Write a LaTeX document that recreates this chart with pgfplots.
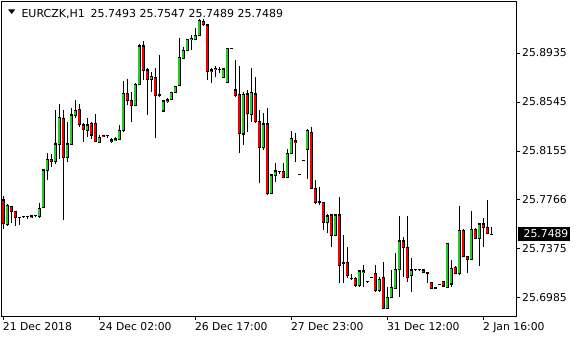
\documentclass[border=0pt]{standalone}
\usepackage{fontspec}
\setmainfont{DejaVu Sans}
\usepackage{pgfplots}
\usepackage{pgfplotstable}
\pgfplotsset{compat=1.18}
\definecolor{bull}{RGB}{40,200,40}
\definecolor{bear}{RGB}{240,0,0}
\pgfplotstableread{
i o h l c
0 25.7765 25.7799 25.7534 25.7580
1 25.7572 25.7731 25.7558 25.7725
2 25.7712 25.7717 25.7584 25.7672
3 25.7672 25.7677 25.7558 25.7627
4 25.7627 25.7632 25.7566 25.7627
5 25.7630 25.7638 25.7619 25.7630
6 25.7630 25.7638 25.7611 25.7630
7 25.7627 25.7640 25.7624 25.7638
8 25.7638 25.7646 25.7627 25.7638
9 25.7632 25.7739 25.7619 25.7699
10 25.7704 25.8009 25.7699 25.8004
11 25.7998 25.8137 25.7924 25.8089
12 25.8089 25.8129 25.8030 25.8068
13 25.8070 25.8481 25.8052 25.8211
14 25.8208 25.8527 25.8089 25.8423
15 25.8415 25.8481 25.7606 25.8105
16 25.8105 25.8388 25.8070 25.8211
17 25.8208 25.8495 25.8203 25.8442
18 25.8436 25.8561 25.8415 25.8481
19 25.8489 25.8529 25.8349 25.8362
20 25.8362 25.8376 25.8229 25.8328
21 25.8317 25.8415 25.8264 25.8362
22 25.8376 25.8388 25.8248 25.8282
23 25.8376 25.8450 25.8224 25.8229
24 25.8224 25.8282 25.8221 25.8264
25 25.8282 25.8282 25.8267 25.8269
26 25.8277 25.8280 25.8261 25.8277
27 25.8243 25.8256 25.8221 25.8229
28 25.8240 25.8264 25.8237 25.8251
29 25.8248 25.8362 25.8243 25.8322
30 25.8317 25.8715 25.8309 25.8614
31 25.8614 25.8728 25.8521 25.8555
32 25.8555 25.8622 25.8388 25.8516
33 25.8516 25.8694 25.8513 25.8686
34 25.8686 25.9007 25.8680 25.8991
35 25.8991 25.9031 25.8720 25.8794
36 25.8800 25.8813 25.8442 25.8726
37 25.8726 25.8786 25.8627 25.8747
38 25.8742 25.8813 25.8256 25.8593
39 25.8601 25.8919 25.8587 25.8595
40 25.8473 25.8561 25.8468 25.8553
41 25.8548 25.8577 25.8537 25.8561
42 25.8567 25.8627 25.8561 25.8622
43 25.8619 25.8672 25.8617 25.8667
44 25.8675 25.9052 25.8672 25.8901
45 25.8893 25.8985 25.8887 25.8953
46 25.8957 25.9047 25.8951 25.9044
47 25.9039 25.9078 25.8959 25.9052
48 25.9044 25.9132 25.9039 25.9078
49 25.9073 25.9203 25.9070 25.9192
50 25.9188 25.9203 25.9152 25.9158
51 25.9158 25.9166 25.8720 25.8786
52 25.8800 25.8818 25.8694 25.8789
53 25.8800 25.8832 25.8742 25.8813
54 25.8805 25.8821 25.8774 25.8805
55 25.8739 25.8813 25.8734 25.8808
56 25.8699 25.8977 25.8694 25.8973
57 25.8973 25.8973 25.8973 25.8973
58 25.8641 25.8879 25.8587 25.8598
59 25.8606 25.8834 25.8139 25.8296
60 25.8290 25.8627 25.8203 25.8606
61 25.8609 25.8641 25.8309 25.8450
62 25.8442 25.8813 25.8388 25.8622
63 25.8609 25.8747 25.8376 25.8388
64 25.8388 25.8481 25.7898 25.8185
65 25.8185 25.8458 25.8163 25.8370
66 25.8370 25.8497 25.7805 25.7813
67 25.7818 25.7972 25.7813 25.7964
68 25.7958 25.8060 25.7908 25.7996
69 25.7990 25.7993 25.7974 25.7990
70 25.7990 25.8060 25.7940 25.7943
71 25.7944 25.8171 25.7940 25.8137
72 25.8137 25.8314 25.8131 25.8256
73 25.8235 25.8296 25.8070 25.8224
74 25.7964 25.7964 25.7964 25.7964
75 25.8083 25.8083 25.8083 25.8083
76 25.8169 25.8330 25.7932 25.8322
77 25.8304 25.8349 25.7850 25.7858
78 25.7858 25.7924 25.7731 25.7747
79 25.7751 25.7871 25.7725 25.7743
80 25.7747 25.7751 25.7526 25.7587
81 25.7587 25.7651 25.7505 25.7638
82 25.7646 25.7654 25.7393 25.7481
83 25.7481 25.7654 25.7478 25.7646
84 25.7646 25.7791 25.7102 25.7242
85 25.7269 25.7486 25.7102 25.7261
86 25.7269 25.7393 25.7142 25.7162
87 25.7142 25.7176 25.7128 25.7142
88 25.7142 25.7150 25.7075 25.7083
89 25.7083 25.7208 25.7075 25.7200
90 25.7186 25.7248 25.7075 25.7200
91 25.7120 25.7120 25.7102 25.7120
92 25.7150 25.7150 25.7150 25.7150
93 25.7182 25.7248 25.7035 25.7043
94 25.7043 25.7155 25.7035 25.7134
95 25.7150 25.7269 25.6895 25.6903
96 25.6903 25.7073 25.6897 25.6991
97 25.6991 25.7208 25.6983 25.7070
98 25.7062 25.7346 25.7057 25.7213
99 25.7208 25.7640 25.6991 25.7439
100 25.7439 25.7473 25.7150 25.7389
101 25.7389 25.7638 25.7115 25.7150
102 25.7162 25.7301 25.7035 25.7208
103 25.7208 25.7213 25.7200 25.7208
104 25.7208 25.7213 25.7200 25.7208
105 25.7208 25.7208 25.7186 25.7190
106 25.7190 25.7190 25.7102 25.7182
107 25.7110 25.7112 25.7059 25.7062
108 25.7067 25.7067 25.7059 25.7062
109 25.7094 25.7094 25.7094 25.7094
110 25.7120 25.7122 25.7078 25.7080
111 25.7070 25.7423 25.7067 25.7420
112 25.7096 25.7287 25.7075 25.7221
113 25.7229 25.7240 25.7176 25.7182
114 25.7176 25.7720 25.7168 25.7521
115 25.7521 25.7532 25.7309 25.7314
116 25.7314 25.7318 25.7182 25.7293
117 25.7293 25.7680 25.7287 25.7532
118 25.7532 25.7540 25.7455 25.7460
119 25.7460 25.7580 25.7242 25.7574
120 25.7574 25.7622 25.7393 25.7548
121 25.7548 25.7765 25.7494 25.7500
122 25.7493 25.7547 25.7489 25.7489
}\candles
\begin{document}
\begin{tikzpicture}
\path[use as bounding box, fill=white] (0pt,0pt) rectangle (580pt,340pt);
\begin{axis}[
  at={(2pt,24pt)}, anchor=south west,
  scale only axis, width=514pt, height=314pt,
  xmin=-0.325, xmax=128.175,
  ymin=25.68416, ymax=25.93411,
  axis line style={black, line width=1pt},
  ytick={25.6985,25.7375,25.7766,25.8155,25.8545,25.8935},
  yticklabels={25.6985,25.7375,25.7766,25.8155,25.8545,25.8935},
  ytick pos=right, yticklabel pos=right,
  xtick={0,24,48,72,96,120},
  xticklabels={21 Dec 2018,24 Dec 02:00,26 Dec 17:00,27 Dec 23:00,31 Dec 12:00,2 Jan 16:00},
  xtick pos=bottom,
  tick align=outside, major tick length=4pt,
  tick style={black, line width=1pt},
  tick label style={font=\fontsize{10.8}{13}\selectfont, inner sep=0pt, text=black},
  xticklabel style={anchor=north west, xshift=-0.5pt, yshift=-2pt},
  yticklabel style={anchor=west, xshift=2pt},
]
% wicks
\addplot[draw=none, mark=none, forget plot,
  error bars/.cd, y dir=plus, y explicit, error mark=none,
  error bar style={draw=black, line width=1pt, solid}]
  table[x=i, y=l, y error plus expr={\thisrow{h}-\thisrow{l}}] {\candles};
% body outlines
\addplot[draw=none, mark=none, forget plot,
  error bars/.cd, y dir=plus, y explicit, error mark=none,
  error bar style={draw=black, line width=3.5pt, solid}]
  table[x=i, y expr={min(\thisrow{o},\thisrow{c})-0.0004},
        y error plus expr={abs(\thisrow{c}-\thisrow{o})+0.0008}] {\candles};
% bull fill
\addplot[draw=none, mark=none, forget plot,
  restrict expr to domain={\thisrow{c}-\thisrow{o}}{0.0011:1},
  error bars/.cd, y dir=plus, y explicit, error mark=none,
  error bar style={draw=bull, line width=1.8pt, solid}]
  table[x=i, y expr={\thisrow{o}+0.0005},
        y error plus expr={\thisrow{c}-\thisrow{o}-0.001}] {\candles};
% bear fill
\addplot[draw=none, mark=none, forget plot,
  restrict expr to domain={\thisrow{o}-\thisrow{c}}{0.0011:1},
  error bars/.cd, y dir=plus, y explicit, error mark=none,
  error bar style={draw=bear, line width=1.8pt, solid}]
  table[x=i, y expr={\thisrow{c}+0.0005},
        y error plus expr={\thisrow{o}-\thisrow{c}-0.001}] {\candles};
\end{axis}
% title
\fill[black] (8.2pt,330.5pt) -- (15.2pt,330.5pt) -- (11.7pt,326pt) -- cycle;
\node[anchor=base west, inner sep=0pt, font=\fontsize{11}{13}\selectfont] at (21.3pt,322.7pt) {EURCZK,H1};
\node[anchor=base west, inner sep=0pt, font=\fontsize{11}{13}\selectfont] at (90.5pt,322.7pt) {25.7493 25.7547 25.7489 25.7489};
% current price label
\fill[black] (517.7pt,99.3pt) rectangle (569.5pt,112.7pt);
\node[anchor=west, inner sep=0pt, text=white, font=\fontsize{10.8}{13}\selectfont] at (523.5pt,106pt) {25.7489};
\end{tikzpicture}
\end{document}
